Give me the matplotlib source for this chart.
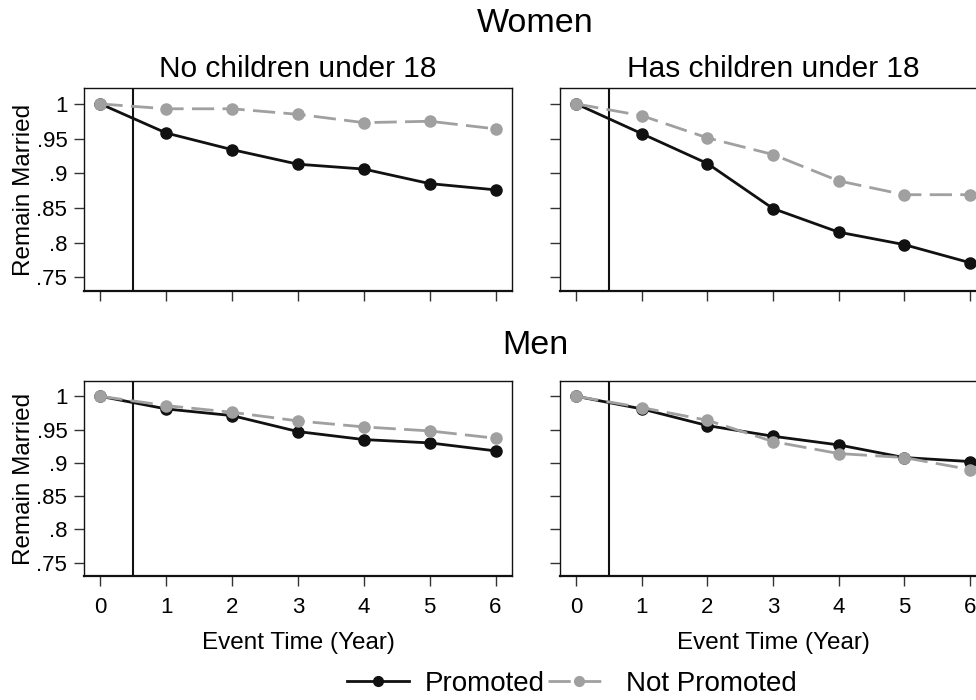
''' Remain married after promotion, by gender and children

'''

import matplotlib
matplotlib.use('Agg')
import matplotlib.pyplot as plt
from matplotlib.lines import Line2D


# DATA
#*************

years = [0, 1, 2, 3, 4, 5, 6]

#Women, no children under 18
women_nokids_prom = [1.0, 0.958, 0.934, 0.913, 0.906, 0.885, 0.876]
women_nokids_notprom = [1.0, 0.993, 0.993, 0.985, 0.973, 0.975, 0.964]

#Women, has children under 18
women_kids_prom = [1.0, 0.957, 0.914, 0.849, 0.815, 0.797, 0.771]
women_kids_notprom = [1.0, 0.983, 0.951, 0.927, 0.889, 0.869, 0.869]

#Men, no children under 18
men_nokids_prom = [1.0, 0.981, 0.971, 0.947, 0.935, 0.930, 0.918]
men_nokids_notprom = [1.0, 0.986, 0.976, 0.963, 0.954, 0.948, 0.937]

#Men, has children under 18
men_kids_prom = [1.0, 0.981, 0.956, 0.940, 0.927, 0.908, 0.902]
men_kids_notprom = [1.0, 0.983, 0.964, 0.932, 0.914, 0.908, 0.890]

ytick_vals = [0.75, 0.8, 0.85, 0.9, 0.95, 1.0]
ytick_labels = ['.75', '.8', '.85', '.9', '.95', '1']
panel_titles = ['No children under 18', 'Has children under 18']
row_titles = ['Women', 'Men']

# STYLE
#*************

plt.rcParams['font.family'] = ['Liberation Sans', 'DejaVu Sans']
black = '#111111'
gray = '#a0a0a0'
dash = (0, (8, 3))

W, H = 976, 700
fig = plt.figure(figsize=(W / 100, H / 100), dpi=100)

#axes boxes in pixels (left, right) / (top, bottom) -> right panels run off the edge
col_x = [(84, 512), (560, 986)]
row_y = [(88, 291), (381, 576)]

data = [[(women_nokids_prom, women_nokids_notprom), (women_kids_prom, women_kids_notprom)],
        [(men_nokids_prom, men_nokids_notprom), (men_kids_prom, men_kids_notprom)]]

for r in range(2):
    for c in range(2):
        x0, x1 = col_x[c]
        y0, y1 = row_y[r]
        ax = fig.add_axes([x0 / W, 1 - y1 / H, (x1 - x0) / W, (y1 - y0) / H])
        prom, notprom = data[r][c]
        ax.axvline(0.5, color=black, lw=1.5, zorder=1)
        ax.plot(years, prom, color=black, lw=2.0, marker='o', ms=8, zorder=3)
        ax.plot(years, notprom, color=gray, lw=2.0, ls=dash, marker='o', ms=8, zorder=4)
        ax.set_xlim(-0.25, 6.25)
        ax.set_ylim(0.73, 1.023)
        ax.set_xticks(years)
        ax.set_yticks(ytick_vals)
        ax.tick_params(direction='out', length=7, width=1, color='#333333',
                       labelsize=16, pad=5)
        ax.tick_params(axis='x', pad=8)
        for s in ax.spines.values():
            s.set_color(black)
            s.set_linewidth(1.0)
        ax.spines['bottom'].set_linewidth(1.6)
        if c == 0:
            ax.set_yticklabels(ytick_labels)
            ax.set_ylabel('Remain Married', fontsize=17.5, labelpad=1)
        else:
            ax.set_yticklabels([])
        if r == 1:
            ax.set_xlabel('Event Time (Year)', fontsize=17.5, labelpad=10)
        else:
            ax.set_xticklabels([])
            ax.set_title(panel_titles[c], fontsize=21.5, pad=8)

#row titles
for r in range(2):
    fig.text((84 + 986) / 2 / W, 1 - [24, 346][r] / H, row_titles[r],
             fontsize=24.5, ha='center', va='center')

#LEGEND
handles = [Line2D([], [], color=black, lw=2.0, marker='o', ms=7),
           Line2D([], [], color=gray, lw=2.0, ls=dash, marker='o', ms=7)]
fig.legend(handles, ['Promoted', 'Not Promoted'], loc='center',
           bbox_to_anchor=(572 / W, 1 - 684 / H), ncol=2, frameon=False,
           fontsize=20, handlelength=2.2, handletextpad=0.6, columnspacing=0.1,
           numpoints=1)

plt.savefig('out.png', dpi=100)
